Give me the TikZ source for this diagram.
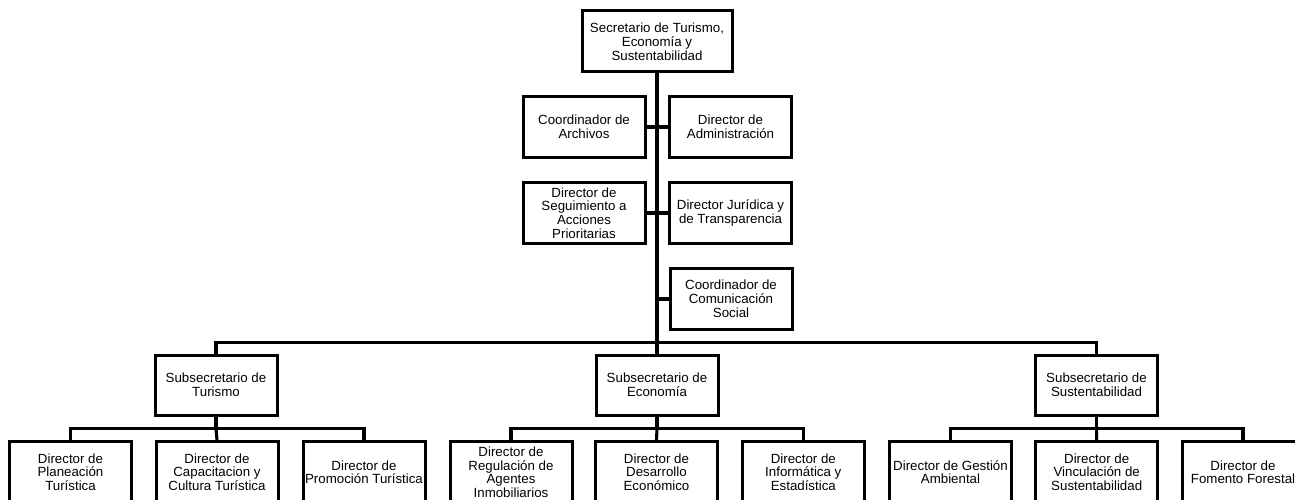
\documentclass[tikz,border=0pt]{standalone}
\usepackage{fontspec}
\setmainfont{Liberation Sans}
\tikzset{
  box/.style={draw=black, line width=3pt, fill=white, minimum width=122pt, minimum height=61pt,
    inner sep=0pt, align=center, font=\fontsize{13.3}{13.8}\selectfont},
  conn/.style={draw=black, line width=3.1pt, line cap=rect}
}
\begin{document}
\begin{tikzpicture}[x=1pt,y=-1pt]
\useasboundingbox (0,0) rectangle (1295,500);
\node[box, minimum width=150pt] (top) at (657,41.5) {Secretario de Turismo,\\Economía y\\Sustentabilidad};
\node[box] (arch) at (584,127) {Coordinador de\\Archivos};
\node[box] (adm) at (730.5,127) {Director de\\Administración};
\node[box] (seg) at (584,213) {Director de\\Seguimiento a\\Acciones\\Prioritarias};
\node[box] (jur) at (730.5,213) {Director Jurídica y\\de Transparencia};
\node[box] (com) at (731,299) {Coordinador de\\Comunicación\\Social};
\node[box, minimum height=60pt] (subT) at (216,385) {Subsecretario de\\Turismo};
\node[box, minimum height=60pt] (subE) at (657,385) {Subsecretario de\\Economía};
\node[box, minimum height=60pt] (subS) at (1096.5,385) {Subsecretario de\\Sustentabilidad};
\node[box] (t1) at (70.5,472.2) {Director de\\Planeación\\Turística};
\node[box] (t2) at (217,472.2) {Director de\\Capacitacion y\\Cultura Turística};
\node[box] (t3) at (364,472.2) {Director de\\Promoción Turística};
\node[box] (e1) at (511,472.2) {Director de\\Regulación de\\Agentes\\Inmobiliarios};
\node[box] (e2) at (656.5,472.2) {Director de\\Desarrollo\\Económico};
\node[box] (e3) at (803.3,472.2) {Director de\\Informática y\\Estadística};
\node[box] (s1) at (950.5,472.2) {Director de Gestión\\Ambiental};
\node[box] (s2) at (1096.7,472.2) {Director de\\Vinculación de\\Sustentabilidad};
\node[box] (s3) at (1243,472.2) {Director de\\Fomento Forestal};
\coordinate (bus) at (657,342.5);
\coordinate (busT) at (216,428.3);
\coordinate (busE) at (657,428.3);
\coordinate (busS) at (1096.5,428.3);
\draw[conn] (top.south) -- (bus);
\draw[conn] (arch.east) -- (adm.west);
\draw[conn] (seg.east) -- (jur.west);
\draw[conn] (com.west) -- (com.west -| top.south);
\draw[conn] (subT.north) |- (bus) -| (subS.north);
\draw[conn] (bus) -- (subE.north);
\draw[conn] (subT.south) -- (busT);
\draw[conn] (t1.north) |- (busT) -| (t3.north);
\draw[conn] (busT) -- (t2.north);
\draw[conn] (subE.south) -- (busE);
\draw[conn] (e1.north) |- (busE) -| (e3.north);
\draw[conn] (busE) -- (e2.north);
\draw[conn] (subS.south) -- (busS);
\draw[conn] (s1.north) |- (busS) -| (s3.north);
\draw[conn] (busS) -- (s2.north);
\end{tikzpicture}
\end{document}
